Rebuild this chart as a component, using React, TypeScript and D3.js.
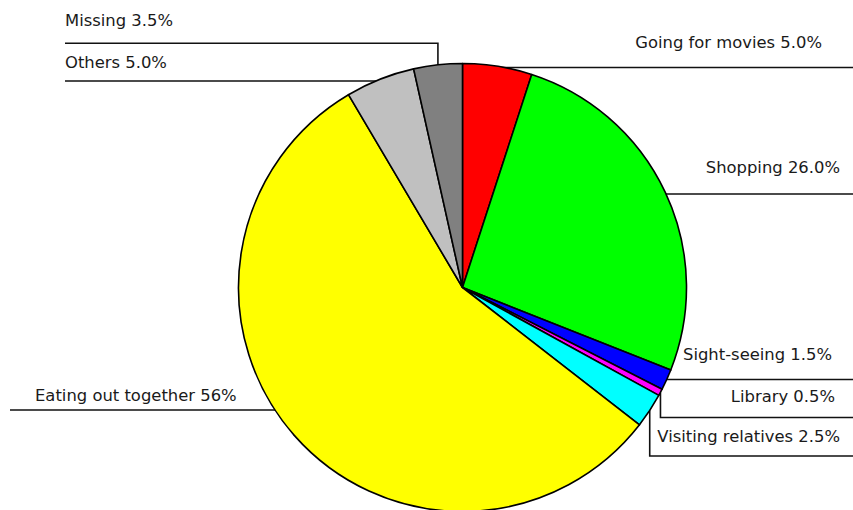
import React from "react";
import * as d3 from "d3";

// Leisure activities share (%), clockwise from 12 o'clock
const categories = [
  "Going for movies",
  "Shopping",
  "Sight-seeing",
  "Library",
  "Visiting relatives",
  "Eating out together",
  "Others",
  "Missing",
];
const shares = [5.0, 26.0, 1.5, 0.5, 2.5, 56, 5.0, 3.5];
const valueLabels = ["5.0%", "26.0%", "1.5%", "0.5%", "2.5%", "56%", "5.0%", "3.5%"];
const sliceColors = [
  "#ff0000",
  "#00ff00",
  "#0000ff",
  "#ff00ff",
  "#00ffff",
  "#ffff00",
  "#c0c0c0",
  "#808080",
];

// Label placement: side, text anchor x, text baseline y, leader line y, leader line far end x
type LabelPos = { side: "left" | "right"; tx: number; ty: number; ly: number; lx: number };
const labelLayout: Record<string, LabelPos> = {
  "Going for movies": { side: "right", tx: 822, ty: 48, ly: 67.5, lx: 853 },
  Shopping: { side: "right", tx: 840, ty: 172.5, ly: 194, lx: 853 },
  "Sight-seeing": { side: "right", tx: 832, ty: 359.5, ly: 379.5, lx: 853 },
  Library: { side: "right", tx: 835, ty: 401.5, ly: 417.5, lx: 853 },
  "Visiting relatives": { side: "right", tx: 840, ty: 441.5, ly: 456, lx: 853 },
  "Eating out together": { side: "left", tx: 35, ty: 400.5, ly: 410, lx: 10 },
  Others: { side: "left", tx: 65, ty: 68, ly: 81, lx: 65 },
  Missing: { side: "left", tx: 65, ty: 26, ly: 43.3, lx: 65 },
};

const W = 853;
const H = 510;
const CX = 462.5;
const CY = 287.5;
const R = 224;

export default function App() {
  const data = categories.map((c, i) => ({ name: c, value: shares[i], color: sliceColors[i], label: valueLabels[i] }));
  const pie = d3
    .pie<(typeof data)[number]>()
    .sort(null)
    .value((d) => d.value)
    .startAngle(0)
    .endAngle(2 * Math.PI);
  const arcs = pie(data);
  const arc = d3.arc<d3.PieArcDatum<(typeof data)[number]>>().innerRadius(0).outerRadius(R);

  return (
    <svg
      width={W}
      height={H}
      style={{ position: "absolute", left: 0, top: 0, background: "#fff" }}
      fontFamily="'DejaVu Sans', Verdana, sans-serif"
    >
      <rect width={W} height={H} fill="#fff" />
      {/* leader lines sit beneath the pie so only the outside part shows */}
      <g stroke="#111" strokeWidth={1.6} fill="none">
        {arcs.map((a) => {
          const mid = (a.startAngle + a.endAngle) / 2;
          const ax = CX + R * Math.sin(mid);
          const ay = CY - R * Math.cos(mid);
          const p = labelLayout[a.data.name];
          const path = d3.path();
          path.moveTo(ax, ay);
          path.lineTo(ax, p.ly);
          path.lineTo(p.lx, p.ly);
          return <path key={a.data.name} d={path.toString()} />;
        })}
      </g>
      <g transform={`translate(${CX},${CY})`}>
        {arcs.map((a) => (
          <path
            key={a.data.name}
            d={arc(a) || ""}
            fill={a.data.color}
            stroke="#000"
            strokeWidth={1.6}
            strokeLinejoin="round"
          />
        ))}
      </g>
      <g fontSize={16.4} fill="#1a1a1a">
        {arcs.map((a) => {
          const p = labelLayout[a.data.name];
          return (
            <text
              key={a.data.name}
              x={p.tx}
              y={p.ty}
              textAnchor={p.side === "right" ? "end" : "start"}
            >
              {`${a.data.name} ${a.data.label}`}
            </text>
          );
        })}
      </g>
    </svg>
  );
}
